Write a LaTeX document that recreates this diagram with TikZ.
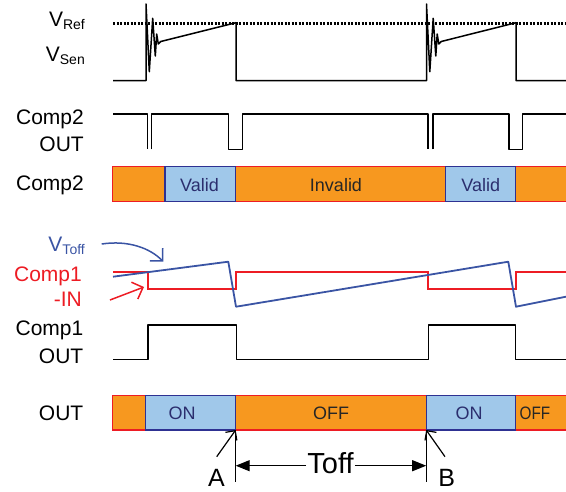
\documentclass[tikz,border=0pt]{standalone}
\usepackage{fontspec}
\setmainfont{Liberation Sans}
\usetikzlibrary{arrows.meta}
\definecolor{orng}{HTML}{F7981F}
\definecolor{lblue}{HTML}{A0C8EA}
\definecolor{bred}{HTML}{ED1C24}
\definecolor{navy}{HTML}{2E3192}
\definecolor{wblue}{HTML}{3A54A4}
\definecolor{txtnavy}{HTML}{2B2E6E}
\newcommand\sbs[1]{\raisebox{-2.5pt}{\fontsize{14}{14}\selectfont #1}}
\begin{document}
\begin{tikzpicture}[x=1pt,y=-1pt,
  lbl/.style={anchor=base east, inner sep=0pt, font=\fontsize{21}{24}\selectfont},
  wave/.style={line width=1.5pt, line join=round},
  dotline/.style={line width=3pt, dash pattern=on 2.4pt off 1.1pt},
  offbox/.style={fill=orng, draw=bred, line width=1.3pt},
  onbox/.style={fill=lblue, draw=navy, line width=1.3pt},
  bartxt/.style={anchor=base, inner sep=0pt, font=\fontsize{18}{20}\selectfont},
  barb/.style={-{Straight Barb[length=9pt,width=18pt]}},
  sbarb/.style={-{Straight Barb[length=7pt,width=14pt]}},
]
\useasboundingbox (0,0) rectangle (566,491);

% labels
\node[lbl] (vref) at (85,26.7) {V\sbs{Ref}};
\node[lbl] (vsen) at (85,61.7) {V\sbs{Sen}};
\node[lbl] (c2a) at (84,124.5) {Comp2};
\node[lbl] (c2b) at (84,151.7) {OUT};
\node[lbl] (c2bar) at (84,190.5) {Comp2};
\node[lbl, text=wblue] (vtoff) at (85,251.7) {V\sbs{Toff}};
\node[lbl, text=bred] (c1in) at (82,281.7) {Comp1};
\node[lbl, text=bred] (c1inb) at (82,306) {-IN};
\node[lbl] (c1a) at (83.5,335) {Comp1};
\node[lbl] (c1b) at (83.5,363.3) {OUT};
\node[lbl] (outl) at (83.5,420) {OUT};

% VRef dotted and VSen
\draw[dotline] (113,23.7) -- (566,23.7);
\draw[wave] (113,80.7) -- (146,80.7) -- (146,4) -- (149.3,71.7) -- (152.7,18.3) -- (155.3,56) -- (156.7,34) -- (158.3,44) -- (160.7,41.5) -- (236,22.7) -- (236,80.7)
  -- (426.5,80.7) -- (426.5,4) -- (429.8,71.7) -- (433.2,18.3) -- (435.8,56) -- (437.2,34) -- (438.8,44) -- (441.2,41.5) -- (516,22.7) -- (516,80.7) -- (567,80.7);

% Comp2 OUT
\draw[wave] (113,114) -- (147.3,114) -- (147.3,149.3);
\draw[wave] (151.6,149.3) -- (151.6,114) -- (228.5,114) -- (228.5,149.3) -- (242.6,149.3) -- (242.6,114) -- (428,114) -- (428,149.3);
\draw[wave] (432.8,149.3) -- (432.8,114) -- (509,114) -- (509,149.3) -- (522.4,149.3) -- (522.4,114) -- (567,114);

% Comp2 bar
\path[offbox] (112.7,166.7) rectangle (165,201.7);
\path[offbox] (235.3,166.7) rectangle (445.7,201.7);
\path[offbox] (515.7,166.7) rectangle (568,201.7);
\path[onbox] (165,166.7) rectangle (235.3,201.7);
\path[onbox] (445.7,166.7) rectangle (515.7,201.7);
\node[bartxt, text=txtnavy] (v1) at (199.5,191.7) {Valid};
\node[bartxt, text=black!85] (inv) at (336,191.7) {Invalid};
\node[bartxt, text=txtnavy] (v2) at (480.7,191.7) {Valid};

% Comp1 -IN and VToff
\draw[bred, line width=1.8pt] (113,271.7) -- (147.7,271.7) -- (147.7,289) -- (236,289) -- (236,271.7) -- (427.7,271.7) -- (427.7,289) -- (516,289) -- (516,271.7) -- (567,271.7);
\draw[wblue, line width=1.8pt, line join=round] (113,276.7) -- (228.3,261.7) -- (236,306.7) -- (508.3,261.7) -- (516,306.7) -- (567,296.5);
\coordinate (vtS) at (101.7,244);
\coordinate (vtE) at (163.3,261.7);
\draw[wblue, line width=1.5pt, barb] (vtS) .. controls (128,240) and (150,248) .. (vtE);
\coordinate (inS) at (110,300);
\coordinate (inE) at (144,287);
\draw[bred, line width=1.5pt, barb] (inS) -- (inE);

% Comp1 OUT
\draw[wave] (113,359.3) -- (148,359.3) -- (148,325) -- (236.5,325) -- (236.5,359.3) -- (428.5,359.3) -- (428.5,325) -- (515.5,325) -- (515.5,359.3) -- (567,359.3);

% OUT bar
\path[offbox] (112.7,395.7) rectangle (145.7,430);
\path[offbox] (235.7,395.7) rectangle (426.2,430);
\path[offbox] (515.5,395.7) rectangle (568,430);
\path[onbox] (145.7,395.7) rectangle (235.7,430);
\path[onbox] (426.2,395.7) rectangle (515.5,430);
\node[bartxt, text=txtnavy] (on1) at (182,419) {ON};
\node[bartxt, text=black!85] (off1) at (331,419) {OFF};
\node[bartxt, text=txtnavy] (on2) at (469,419) {ON};
\node[bartxt, text=black!85, anchor=base west] (off2) at (519.5,419) {\scalebox{0.85}[1]{OFF}};

% A / B markers and Toff
\coordinate (A0) at (235.7,430);
\coordinate (A1) at (235.7,481.7);
\coordinate (B0) at (426.2,430);
\coordinate (B1) at (426.2,481.7);
\coordinate (tA) at (235.7,465.7);
\coordinate (tB) at (426.2,465.7);
\coordinate (aS) at (216.7,456.7);
\coordinate (bS) at (445,456.7);
\draw[line width=1.2pt] (A0) -- (A1);
\draw[line width=1.2pt] (B0) -- (B1);
\draw[line width=1.2pt, sbarb] (aS) -- (A0);
\draw[line width=1.2pt, sbarb] (bS) -- (B0);
\node[anchor=base, inner sep=1pt, font=\fontsize{29}{32}\selectfont] (toff) at (330.5,473.3) {Toff};
\draw[line width=1.2pt, -{Triangle[length=14pt,width=11pt]}] (toff.west |- tA) -- (tA);
\draw[line width=1.2pt, -{Triangle[length=14pt,width=11pt]}] (toff.east |- tB) -- (tB);
\node[anchor=base, inner sep=0pt, font=\fontsize{25}{28}\selectfont] (la) at (216.5,486.5) {A};
\node[anchor=base, inner sep=0pt, font=\fontsize{25}{28}\selectfont] (lb) at (446.7,486.5) {B};
\end{tikzpicture}
\end{document}
